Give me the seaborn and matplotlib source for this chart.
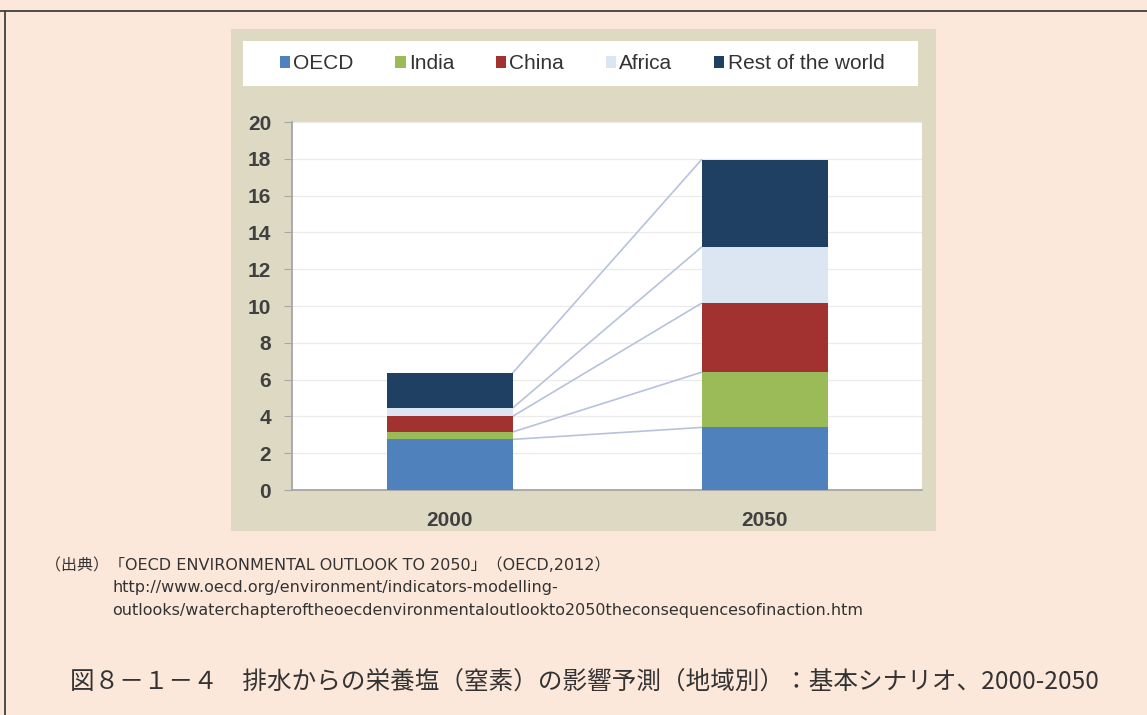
import pandas as pd
import matplotlib.pyplot as plt
import seaborn as sns
from matplotlib.patches import Rectangle, Patch
from matplotlib.lines import Line2D

# Chart data
years = ["2000", "2050"]
regions = ["OECD", "India", "China", "Africa", "Rest of the world"]
oecd = [2.75, 3.4]
india = [0.4, 3.0]
china = [0.85, 3.75]
africa = [0.45, 3.05]
rest_of_world = [1.9, 4.75]
region_colors = ["#4F81BD", "#9BBB59", "#A2322F", "#DCE6F2", "#1F3F63"]
yticks = list(range(0, 21, 2))

source_lines = [
    "（出典）「OECD ENVIRONMENTAL OUTLOOK TO 2050」（OECD,2012）",
    "http://www.oecd.org/environment/indicators-modelling-",
    "outlooks/waterchapteroftheoecdenvironmentaloutlookto2050theconsequencesofinaction.htm",
]
caption = "図８－１－４　排水からの栄養塩（窒素）の影響予測（地域別）：基本シナリオ、2000-2050"

sns.set_style("white")
plt.rcParams["font.family"] = ["Liberation Sans", "Noto Sans CJK JP", "DejaVu Sans"]

W, H = 1147, 715


def fx(px):
    return px / W


def fy(py):
    return 1 - py / H


fig = plt.figure(figsize=(W / 100, H / 100), dpi=100, facecolor="#FCE8DA")

# outer frame (top and left edges)
fig.add_artist(Line2D([0, 1], [fy(10.5), fy(10.5)], transform=fig.transFigure, color="#404040", lw=1.3))
fig.add_artist(Line2D([fx(4.5), fx(4.5)], [fy(10.5), 0], transform=fig.transFigure, color="#404040", lw=1.3))

# tan chart panel and white legend box
fig.add_artist(Rectangle((fx(231), fy(531)), fx(936 - 231), (531 - 29) / H,
                         transform=fig.transFigure, facecolor="#DDD9C3", edgecolor="none", zorder=0))
fig.add_artist(Rectangle((fx(243), fy(86)), fx(918 - 243), (86 - 41) / H,
                         transform=fig.transFigure, facecolor="white", edgecolor="none", zorder=0))

ax = fig.add_axes([fx(292), fy(490), fx(630), 368 / H])
ax.set_facecolor("white")

# stacked bars: cumulative totals drawn from the top segment down
df = pd.DataFrame({"OECD": oecd, "India": india, "China": china,
                   "Africa": africa, "Rest of the world": rest_of_world}, index=years)
cum = df[regions].cumsum(axis=1)
bar_w = 0.4
for region, color in reversed(list(zip(regions, region_colors))):
    sns.barplot(x=cum.index, y=cum[region].values, color=color, width=bar_w,
                saturation=1, linewidth=0, ax=ax, zorder=3)

# connector lines between segment tops
for region in regions:
    ax.plot([0 + bar_w / 2, 1 - bar_w / 2], cum[region].values,
            color="#B7C2DB", lw=1.2, zorder=2)

ax.set_ylim(0, 20)
ax.set_xlim(-0.5, 1.5)
ax.set_yticks(yticks)
ax.set_xlabel("")
ax.set_ylabel("")
ax.yaxis.grid(True, color="#EBEBEB", lw=0.9)
ax.set_axisbelow(True)

for side in ["top", "right"]:
    ax.spines[side].set_visible(False)
for side in ["left", "bottom"]:
    ax.spines[side].set_color("#A6A6A6")
    ax.spines[side].set_linewidth(1.3)

ax.set_xticks([-0.5, 0.5, 1.5], minor=True)
ax.tick_params(axis="x", which="major", length=0, pad=15)
ax.tick_params(axis="x", which="minor", length=5, color="#A6A6A6", direction="out")
ax.tick_params(axis="y", length=6, color="#A6A6A6", direction="out", pad=9, left=True)
for lbl in ax.get_xticklabels() + ax.get_yticklabels():
    lbl.set_fontsize(15)
    lbl.set_fontweight("bold")
    lbl.set_color("#404040")

handles = [Patch(facecolor=c, edgecolor="none", label=r) for r, c in zip(regions, region_colors)]
fig.legend(handles=handles, loc="center", bbox_to_anchor=(fx(582), fy(63.5)), ncol=5,
           frameon=False, prop={"family": "Liberation Sans", "size": 15},
           handlelength=0.5, handleheight=0.5, handletextpad=0.15,
           columnspacing=2.0, labelcolor="#333333")

# source note and figure caption
src_font = ["DejaVu Sans", "Noto Sans CJK JP"]
fig.text(fx(45), fy(565), source_lines[0], va="center", family=src_font, size=11.5, color="#333333")
fig.text(fx(112), fy(587.5), source_lines[1], va="center", family=src_font, size=11.5, color="#333333")
fig.text(fx(112), fy(610), source_lines[2], va="center", family=src_font, size=11.5, color="#333333")
fig.text(fx(70), fy(682), caption, va="center", family=["Noto Sans CJK JP", "DejaVu Sans"],
         size=17.7, color="#333333")

fig.savefig("out.png", dpi=100, facecolor=fig.get_facecolor())
